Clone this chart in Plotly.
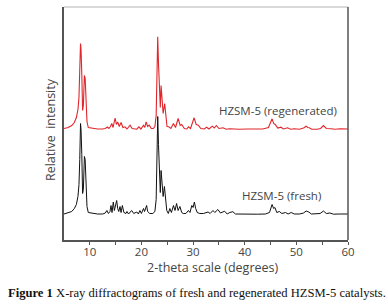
import plotly.graph_objects as go

# ---- data (2-theta in degrees, relative intensity) ----
fresh_2theta = [5.0, 5.8, 6.5, 7.0, 7.4, 7.7, 7.9, 8.05, 8.2, 8.3, 8.45, 8.6, 8.75, 8.95, 9.1, 9.25, 9.45, 9.7,
                10.5, 11.5, 12.5, 13.0, 13.3, 13.6, 13.9, 14.1, 14.3, 14.55, 14.75, 15.0, 15.2, 15.4, 15.6, 15.85,
                16.05, 16.3, 16.6, 17.0, 17.2, 17.5, 18.1, 18.5, 19.1, 19.4, 19.7, 20.0, 20.4, 20.6, 21.0, 21.2,
                21.6, 22.2, 22.6, 22.85, 23.0, 23.15, 23.3, 23.5, 23.65, 23.8, 24.0, 24.2, 24.45, 24.65, 24.9,
                25.2, 25.5, 25.8, 26.2, 26.5, 26.8, 27.1, 27.45, 27.8, 28.1, 28.6, 29.1, 29.4, 29.75, 30.0, 30.25,
                30.5, 30.8, 31.3, 32.0, 32.9, 33.3, 33.85, 34.2, 34.8, 35.3, 36.1, 36.6, 37.1, 37.7, 38.2, 39.5,
                41.0, 42.5, 44.0, 44.8, 45.3, 45.6, 45.85, 46.2, 46.7, 47.2, 47.9, 48.4, 49.0, 49.6, 50.6, 51.4,
                51.9, 52.4, 52.9, 53.8, 54.6, 55.25, 55.8, 56.5, 57.2, 58.3, 59.2, 60.0]
fresh_intensity = [0.5, 1.5, 3, 6, 10, 18, 30, 55, 91, 85, 60, 21, 25, 58, 55, 30, 8, 2,
                   1, 0.5, 0.5, 1.5, 4, 1, 3, 9, 2, 12.5, 4, 10, 14, 6, 3, 8,
                   2, 9, 2, 1, 3, 0.5, 4, 1, 2.5, 0.5, 4, 1, 6, 3, 9, 3,
                   1, 1, 3, 15, 50, 98, 70, 40, 22, 44, 30, 18, 28, 14, 4,
                   1, 6, 2, 9, 4, 11, 4, 8, 2, 1, 1, 4, 2, 9, 7, 12.5,
                   6, 2, 1, 1, 2.5, 1, 4, 2, 5, 1.5, 3.3, 0.5, 2, 2.8, 0.5, 0.3,
                   0.5, 0.3, 0.5, 2, 10, 6, 7, 2, 3, 1, 2, 0.5, 2, 0.5, 0.5, 1.5,
                   3.5, 2.5, 0.5, 0.5, 1, 3.5, 1, 1.5, 0.3, 0.5, 0.3, 0.5]

regen_2theta = [5.0, 5.8, 6.5, 7.0, 7.4, 7.7, 7.9, 8.05, 8.2, 8.3, 8.45, 8.6, 8.75, 8.95, 9.1, 9.25, 9.45, 9.7,
                10.5, 11.5, 12.5, 13.0, 13.4, 13.7, 14.0, 14.25, 14.5, 14.9, 15.15, 15.4, 15.7, 16.05, 16.4,
                16.8, 17.2, 17.8, 18.2, 18.75, 19.1, 19.5, 19.9, 20.4, 20.65, 20.9, 21.2, 21.5, 21.9, 22.3,
                22.6, 22.85, 23.0, 23.15, 23.3, 23.5, 23.65, 23.8, 24.0, 24.2, 24.5, 24.7, 24.95, 25.3, 25.7,
                26.2, 26.6, 27.1, 27.5, 27.8, 28.3, 28.8, 29.1, 29.5, 29.9, 30.2, 30.6, 31.0, 31.5, 32.2,
                32.6, 33.1, 33.7, 34.1, 34.5, 35.0, 35.8, 36.4, 37.1, 37.8, 39.0, 40.5, 42.0, 43.5, 44.6,
                45.3, 45.6, 45.9, 46.4, 47.0, 47.5, 48.3, 48.9, 49.6, 50.6, 51.4, 51.9, 52.2, 52.5, 53.0,
                54.0, 54.7, 55.25, 55.8, 56.7, 57.5, 58.5, 59.3, 60.0]
regen_intensity = [1, 2, 4, 7, 12, 20, 32, 55, 86, 80, 55, 19, 24, 54, 51, 28, 8, 2,
                   1, 0.5, 0.5, 1, 2.5, 1, 3, 6, 2, 11.5, 5, 7.5, 3, 7, 2,
                   2.7, 0.5, 4.3, 1, 1, 0.3, 2.7, 0.5, 4.3, 2, 7.7, 3, 4.3, 1, 1,
                   3, 14, 48, 92.7, 66, 38, 22, 44, 28, 16, 26, 12, 3, 2.7, 1,
                   6, 2, 11, 4, 5, 1, 0.5, 2.7, 1, 8, 11.7, 5, 4.3, 1, 0.5,
                   2.3, 0.5, 3.3, 1.5, 4, 1, 1.7, 0.3, 0.7, 0.3, 0.2, 0.5, 0.2, 0.5, 2,
                   10.7, 6, 5, 1.5, 2.3, 0.5, 1.7, 0.3, 0.7, 0.3, 1.5, 3.3, 2, 1.7, 0.3,
                   0.3, 1, 4, 1, 0.7, 0.2, 0.7, 0.3, 0.5]

x_ticks = [10, 20, 30, 40, 50, 60]
labels = ["HZSM-5 (regenerated)", "HZSM-5 (fresh)"]
x_title = "2-theta scale (degrees)"
y_title = "Relative  intensity"
caption = "<b>Figure 1</b> X-ray diffractograms of fresh and regenerated HZSM-5 catalysts."
regen_offset = 85

GREY = "#444444"

fig = go.Figure()
fig.add_trace(go.Scatter(x=fresh_2theta, y=fresh_intensity, mode="lines",
                         line=dict(color="#111111", width=1), showlegend=False))
fig.add_trace(go.Scatter(x=regen_2theta, y=[v + regen_offset for v in regen_intensity], mode="lines",
                         line=dict(color="#e0262b", width=1.1), showlegend=False))

fig.add_annotation(x=46.4, y=regen_offset + 19, text=labels[0], showarrow=False,
                   font=dict(family="Open Sans", size=11.5, color=GREY), xref="x", yref="y")
fig.add_annotation(x=47.1, y=19.5, text=labels[1], showarrow=False,
                   font=dict(family="Open Sans", size=11.5, color=GREY), xref="x", yref="y")

# axis titles
fig.add_annotation(xref="paper", yref="paper", x=0.525, y=-0.116, text=x_title, showarrow=False,
                   xanchor="center", yanchor="middle",
                   font=dict(family="Open Sans", size=12.5, color=GREY))
fig.add_annotation(xref="paper", yref="paper", x=0, y=0.472, text=y_title, showarrow=False,
                   textangle=-90, xanchor="center", yanchor="middle", xshift=-14,
                   font=dict(family="Open Sans", size=12.5, color=GREY))

# frame: light top, dark right
fig.add_shape(type="line", xref="paper", yref="paper", x0=0, x1=1, y0=1, y1=1,
              line=dict(color="#cccccc", width=1.5))
fig.add_shape(type="line", xref="paper", yref="paper", x0=1, x1=1, y0=0, y1=1,
              line=dict(color="#555555", width=1.5))

fig.add_annotation(xref="paper", yref="paper", x=0, y=-0.2275, xanchor="left", yanchor="middle",
                   showarrow=False, align="left", text=caption,
                   font=dict(family="Liberation Serif", size=12.6, color="#111111"),
                   xshift=-58)

fig.update_layout(
    width=388, height=306,
    margin=dict(l=64, r=40, t=7, b=66),
    paper_bgcolor="white", plot_bgcolor="white",
    xaxis=dict(range=[5, 60], tickvals=x_ticks, ticks="outside", ticklen=3, tickwidth=1,
               tickcolor="#555555", showline=True, linecolor="#555555", linewidth=1.5,
               showgrid=False, zeroline=False, automargin=False, ticklabelstandoff=-3,
               minor=dict(tickvals=[15, 25, 35, 45, 55], ticks="outside", ticklen=3, tickcolor="#555555"),
               tickfont=dict(family="Open Sans", size=11.5, color=GREY)),
    yaxis=dict(range=[-25.5, 207.5], showticklabels=False, ticks="", showline=True,
               linecolor="#555555", linewidth=1.5, showgrid=False, zeroline=False, automargin=False),
)

fig.write_html("out.html", config={"displayModeBar": False},
               post_script="document.body.style.margin='0';")
